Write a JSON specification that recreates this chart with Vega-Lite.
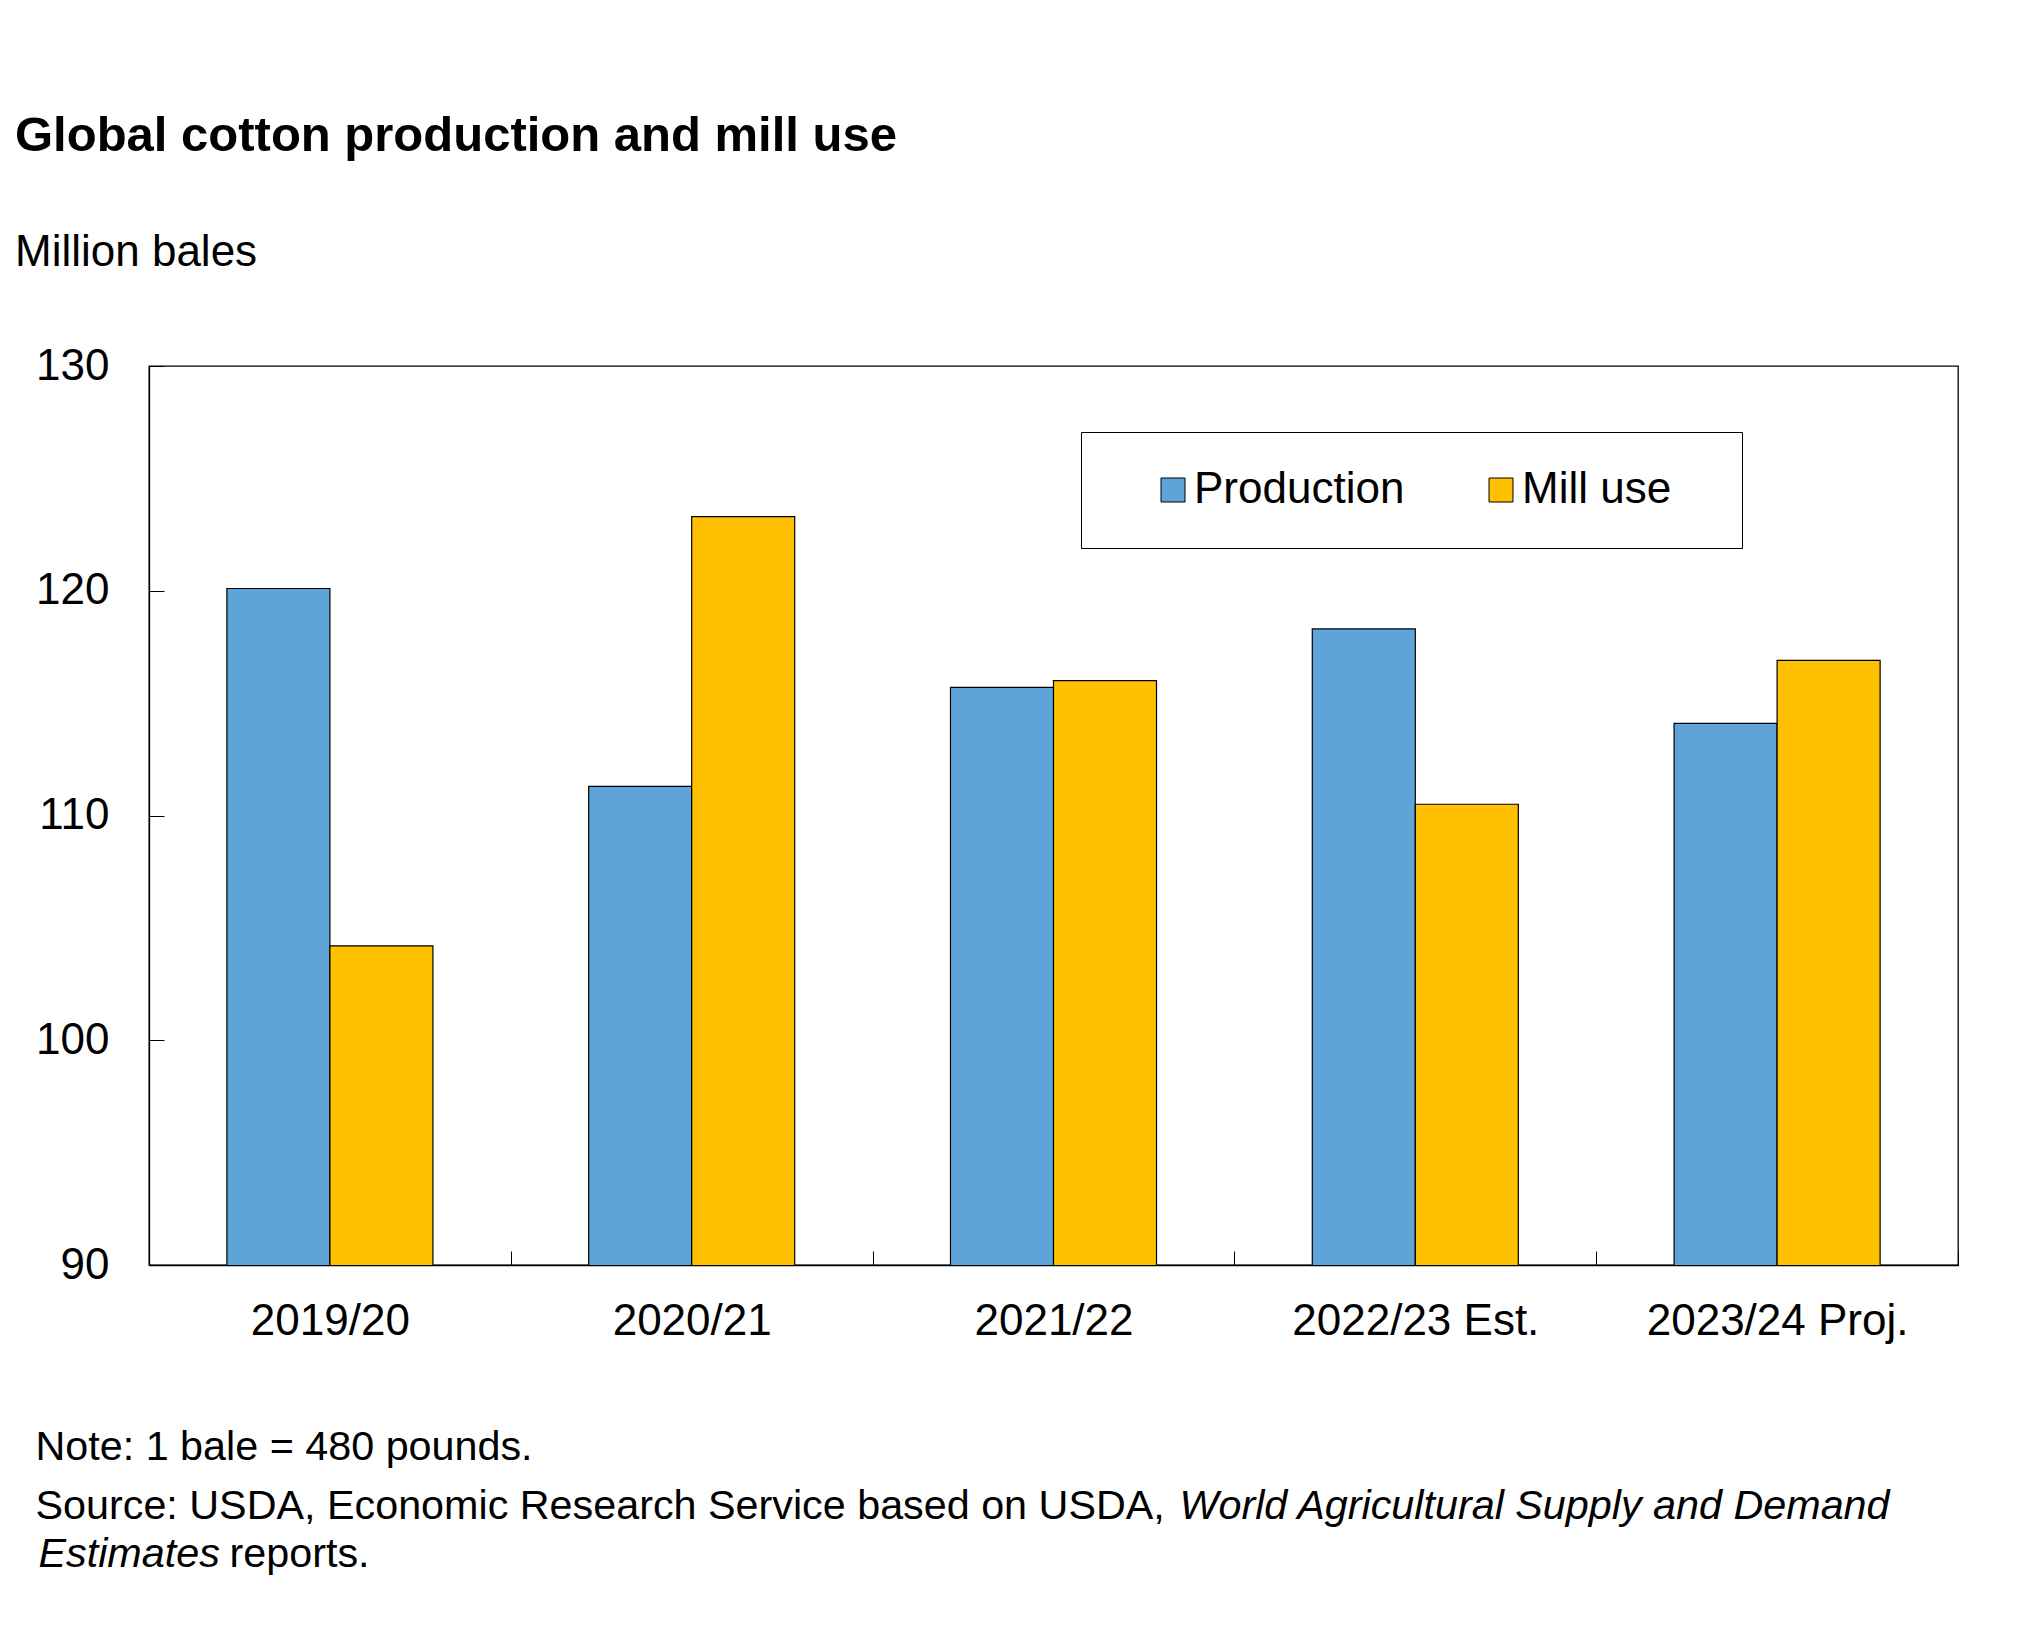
{
  "$schema": "https://vega.github.io/schema/vega-lite/v6.json",
  "description": "Global cotton production and mill use",
  "autosize": {"type": "none"},
  "padding": {"left": 149, "top": 366, "right": 82, "bottom": 367},
  "width": 1809,
  "height": 899,
  "title": {
    "text": "Global cotton production and mill use",
    "subtitle": "Million bales",
    "anchor": "start",
    "frame": "group",
    "dx": -134,
    "offset": 69,
    "font": "Liberation Sans",
    "fontSize": 49,
    "fontWeight": "bold",
    "color": "black",
    "subtitleFont": "Liberation Sans",
    "subtitleFontSize": 44,
    "subtitleColor": "black",
    "subtitlePadding": 70
  },
  "data": {
    "values": [
      {"season": "2019/20", "series": "Production", "value": 120.1},
      {"season": "2019/20", "series": "Mill use", "value": 104.2},
      {"season": "2020/21", "series": "Production", "value": 111.3},
      {"season": "2020/21", "series": "Mill use", "value": 123.3},
      {"season": "2021/22", "series": "Production", "value": 115.7},
      {"season": "2021/22", "series": "Mill use", "value": 116.0},
      {"season": "2022/23 Est.", "series": "Production", "value": 118.3},
      {"season": "2022/23 Est.", "series": "Mill use", "value": 110.5},
      {"season": "2023/24 Proj.", "series": "Production", "value": 114.1},
      {"season": "2023/24 Proj.", "series": "Mill use", "value": 116.9}
    ]
  },
  "layer": [
    {
      "mark": {"type": "bar", "stroke": "black", "strokeWidth": 1.2, "clip": true},
      "encoding": {
        "x": {
          "field": "season",
          "type": "nominal",
          "sort": null,
          "scale": {"paddingInner": 0, "paddingOuter": 0},
          "axis": {
            "orient": "bottom",
            "labelAngle": 0,
            "labelFontSize": 44,
            "labelColor": "black",
            "labelPadding": 48,
            "labelLimit": 0,
            "tickBand": "extent",
            "tickSize": -14,
            "tickColor": "black",
            "domainColor": "black",
            "domainWidth": 1.3,
            "grid": false,
            "title": ["Note: 1 bale = 480 pounds.", "Source: USDA, Economic Research Service based on USDA,"],
            "titleFontSize": 41.3,
            "titleFontWeight": "normal",
            "titleColor": "black",
            "titleAngle": 0,
            "titleAlign": "left",
            "titleBaseline": "alphabetic",
            "titleLineHeight": 59,
            "titleX": -114,
            "titleY": 194
          }
        },
        "xOffset": {
          "field": "series",
          "sort": ["Production", "Mill use"],
          "scale": {"paddingInner": 0, "paddingOuter": 0.756}
        },
        "y": {
          "field": "value",
          "type": "quantitative",
          "scale": {"domain": [90, 130], "nice": false, "zero": false},
          "axis": {
            "orient": "left",
            "values": [90, 100, 110, 120, 130],
            "labelFontSize": 44,
            "labelColor": "black",
            "labelPadding": 55,
            "tickSize": -15,
            "tickColor": "black",
            "domainColor": "black",
            "domainWidth": 1.3,
            "grid": false,
            "title": "Estimates",
            "titleFontSize": 41.3,
            "titleFontWeight": "normal",
            "titleFontStyle": "italic",
            "titleColor": "black",
            "titleAngle": 0,
            "titleAlign": "left",
            "titleBaseline": "alphabetic",
            "titleX": -111,
            "titleY": 1200
          }
        },
        "color": {
          "field": "series",
          "type": "nominal",
          "scale": {"domain": ["Production", "Mill use"], "range": ["#5ea4d9", "#ffc000"]},
          "legend": {
            "title": "\u00a0",
            "titleOrient": "right",
            "titleFontSize": 44,
            "titlePadding": 35,
            "orient": "none",
            "legendX": 932,
            "legendY": 66,
            "direction": "horizontal",
            "fillColor": "white",
            "strokeColor": "black",
            "padding": 36,
            "labelFontSize": 44,
            "labelColor": "black",
            "labelLimit": 0,
            "labelOffset": -1,
            "symbolType": "square",
            "symbolSize": 576,
            "symbolOffset": 34,
            "symbolStrokeColor": "black",
            "symbolStrokeWidth": 1,
            "symbolOpacity": 1,
            "columnPadding": 40
          }
        }
      }
    },
    {
      "mark": {"type": "point", "opacity": 0},
      "encoding": {
        "x": {
          "field": "season",
          "type": "nominal",
          "sort": null,
          "axis": {
            "orient": "top",
            "labels": false,
            "ticks": false,
            "domain": false,
            "grid": false,
            "title": "World Agricultural Supply and Demand",
            "titleFontSize": 41.3,
            "titleFontWeight": "normal",
            "titleFontStyle": "italic",
            "titleColor": "black",
            "titleAngle": 0,
            "titleAlign": "left",
            "titleBaseline": "alphabetic",
            "titleX": 1030,
            "titleY": 1152
          }
        },
        "y": {
          "field": "value",
          "type": "quantitative",
          "scale": {"domain": [90, 130], "nice": false, "zero": false},
          "axis": {
            "orient": "right",
            "labels": false,
            "ticks": false,
            "domain": false,
            "grid": false,
            "title": "reports.",
            "titleFontSize": 41.3,
            "titleFontWeight": "normal",
            "titleColor": "black",
            "titleAngle": 0,
            "titleAlign": "left",
            "titleBaseline": "alphabetic",
            "titleX": -1729,
            "titleY": 1200
          }
        }
      }
    }
  ],
  "resolve": {"scale": {"x": "independent", "y": "independent"}},
  "config": {
    "font": "Liberation Sans",
    "view": {"stroke": "black", "strokeWidth": 1.3}
  }
}
